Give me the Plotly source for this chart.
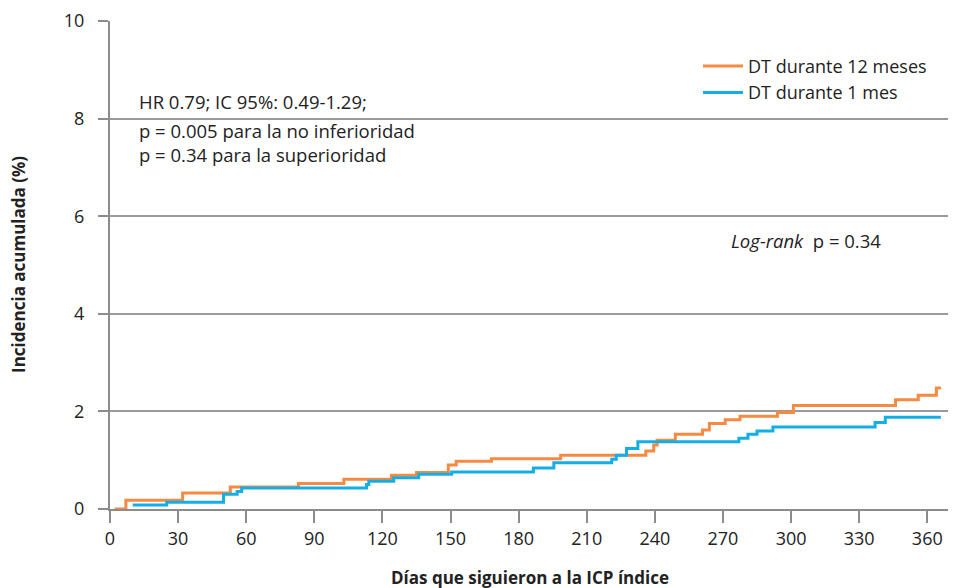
import plotly.graph_objects as go

# Data (days, cumulative incidence %)
orange_days = [2, 7, 32, 53, 83, 103, 124, 135, 149, 152.5, 168, 198.5, 236, 239.5, 241, 249, 261, 264, 271, 277.5, 294, 301, 346, 356, 364, 366]
orange_vals = [0, 0.18, 0.33, 0.45, 0.52, 0.61, 0.69, 0.75, 0.90, 0.98, 1.03, 1.10, 1.19, 1.31, 1.41, 1.53, 1.62, 1.75, 1.83, 1.90, 1.98, 2.12, 2.24, 2.33, 2.48, 2.48]

blue_days = [10, 25, 50, 56, 58, 113, 114, 125, 136, 150.5, 186.5, 195.5, 221, 223, 227.5, 232.5, 277, 281, 285, 292, 337, 341.5, 366]
blue_vals = [0.08, 0.14, 0.30, 0.36, 0.43, 0.50, 0.57, 0.64, 0.71, 0.76, 0.84, 0.95, 1.02, 1.10, 1.24, 1.38, 1.45, 1.53, 1.60, 1.68, 1.77, 1.88, 1.88]

x_ticks = [0, 30, 60, 90, 120, 150, 180, 210, 240, 270, 300, 330, 360, 370]
x_ticktext = ["0", "30", "60", "90", "120", "150", "180", "210", "240", "270", "300", "330", "360", ""]
y_ticks = [0, 2, 4, 6, 8, 10]

series_names = ["DT durante 12 meses", "DT durante 1 mes"]
ORANGE = "#F58A42"
BLUE = "#14AEE6"
GRID = "#9a9a9a"
AXIS = "#8c8c8c"
FONT = "Open Sans"
TXT = "#222222"

fig = go.Figure()
fig.add_trace(go.Scatter(x=orange_days, y=orange_vals, mode="lines", line_shape="hv",
                         line=dict(color=ORANGE, width=3), name=series_names[0]))
fig.add_trace(go.Scatter(x=blue_days, y=blue_vals, mode="lines", line_shape="hv",
                         line=dict(color=BLUE, width=3), name=series_names[1]))

# the page body adds an 8px margin, so the figure is sized/margined to compensate
fig.update_layout(
    width=948, height=580,
    margin=dict(l=102, r=6, t=13, b=79, autoexpand=False),
    paper_bgcolor="white", plot_bgcolor="white",
    font=dict(family=FONT, color=TXT),
    showlegend=True,
    legend=dict(x=0.70, y=0.945, xanchor="left", yanchor="top",
                font=dict(size=18, family=FONT, color=TXT),
                bgcolor="rgba(0,0,0,0)", tracegroupgap=0, itemwidth=40),
    xaxis=dict(range=[0, 370], tickmode="array", tickvals=x_ticks, ticktext=x_ticktext,
               ticks="outside", ticklen=12, tickwidth=2, tickcolor=AXIS,
               showline=True, linecolor=AXIS, linewidth=2, showgrid=False, zeroline=False,
               automargin=False,
               tickfont=dict(size=18, family=FONT, color=TXT)),
    yaxis=dict(range=[0, 10], tickmode="array", tickvals=y_ticks,
               ticks="outside", ticklen=10, tickwidth=2, tickcolor=AXIS,
               showline=True, linecolor=AXIS, linewidth=2,
               showgrid=True, gridcolor=GRID, gridwidth=1.5, zeroline=False,
               automargin=False, ticklabelstandoff=10,
               tickfont=dict(size=18, family=FONT, color=TXT)),
)

# axis titles
fig.add_annotation(x=0.5, y=0, xref="paper", yref="paper", xanchor="center", yanchor="middle",
                   yshift=-68, text="<b>Días que siguieron a la ICP índice</b>", showarrow=False,
                   font=dict(size=17, family=FONT, color=TXT))
fig.add_annotation(x=0, y=0.5, xref="paper", yref="paper", xanchor="center", yanchor="middle",
                   xshift=-92, textangle=-90, text="<b>Incidencia acumulada (%)</b>", showarrow=False,
                   font=dict(size=17, family=FONT, color=TXT))

ann_font = dict(size=18.5, family=FONT, color=TXT)
fig.add_annotation(x=0.032, y=8.35, xref="paper", yref="y", xanchor="left", yanchor="middle",
                   text="HR 0.79; IC 95%: 0.49-1.29;", showarrow=False, font=ann_font)
fig.add_annotation(x=0.032, y=7.52, xref="paper", yref="y", xanchor="left", yanchor="middle",
                   align="left",
                   text="p = 0.005 para la no inferioridad<br>p = 0.34 para la superioridad",
                   showarrow=False, font=ann_font)
fig.add_annotation(x=0.737, y=5.51, xref="paper", yref="y", xanchor="left", yanchor="middle",
                   text="<i>Log-rank</i>  p = 0.34", showarrow=False, font=ann_font)

fig.write_html("out.html")
